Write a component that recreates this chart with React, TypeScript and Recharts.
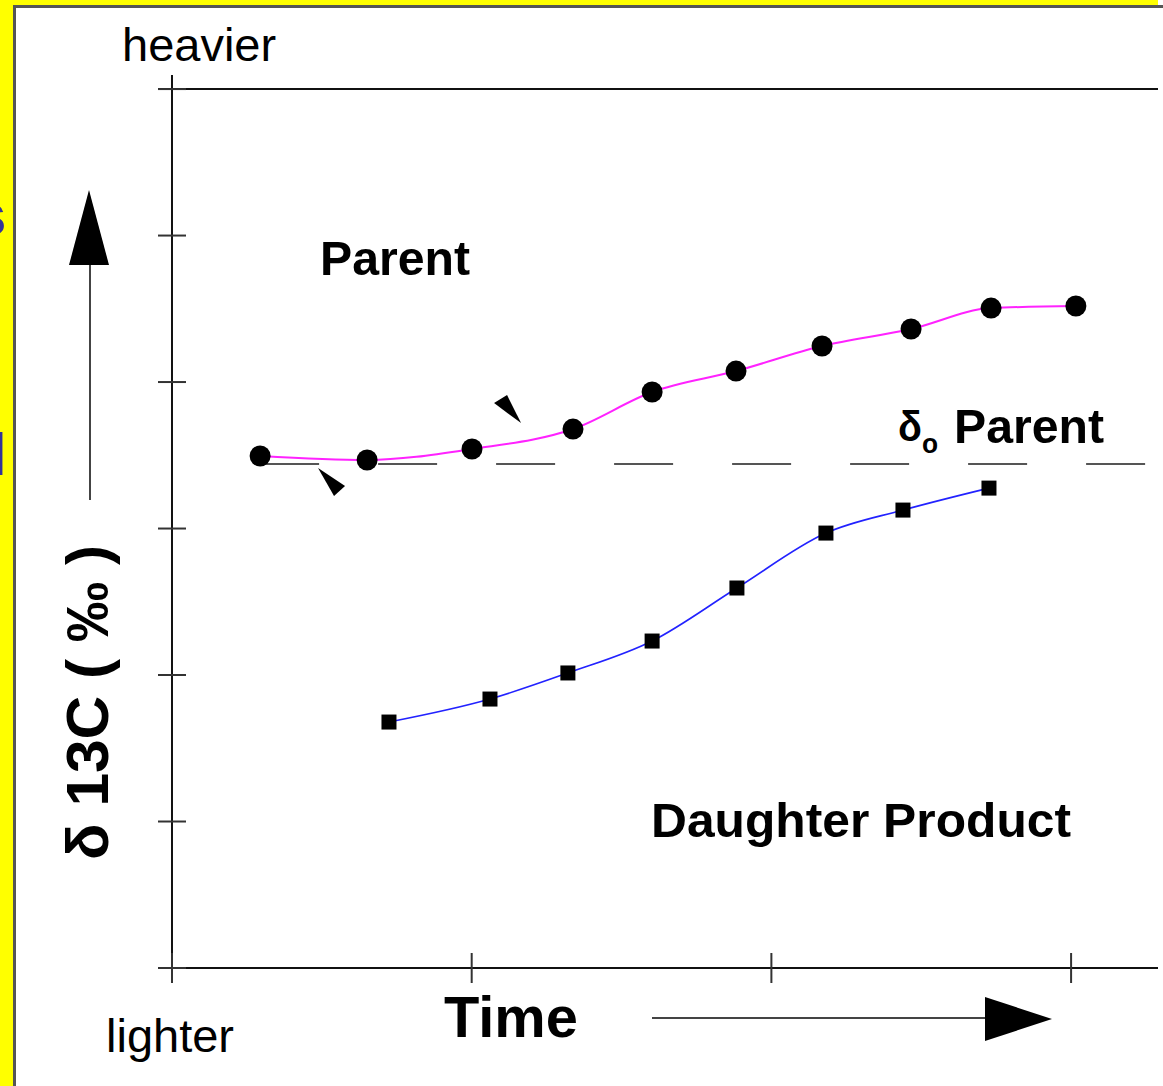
import { LineChart, Line, XAxis, YAxis, ReferenceLine, ReferenceDot } from "recharts";

// values (time units / per-mil units)
const parentX = [0.294, 0.651, 1.001, 1.338, 1.602, 1.882, 2.169, 2.466, 2.733, 3.016];
const parentY = [3.495, 3.468, 3.543, 3.679, 3.932, 4.075, 4.246, 4.362, 4.505, 4.519];
const daughterX = [0.724, 1.061, 1.321, 1.602, 1.885, 2.182, 2.439, 2.726];
const daughterY = [1.679, 1.836, 2.014, 2.232, 2.594, 2.969, 3.126, 3.276];
const startParent = 3.44;
const markX = [0.534, 1.118];
const markY = [3.31, 3.829];
const xTicks = [0, 1, 2, 3];
const yTicks = [0, 1, 2, 3, 4, 5, 6];

const parentData = parentX.map((x, i) => ({ x, y: parentY[i] }));
const daughterData = daughterX.map((x, i) => ({ x, y: daughterY[i] }));

const FONT = "'Liberation Sans', Arial, sans-serif";

const markShapes = [
  "-14,-15 13,3 2,13",
  "-13,-4 0,-12 14,16",
];

function CircleDot(props: any) {
  const { cx, cy, index } = props;
  return <circle key={`c${index}`} cx={cx} cy={cy} r={10.5} fill="#000" />;
}

function SquareDot(props: any) {
  const { cx, cy, index } = props;
  return <rect key={`s${index}`} x={cx - 7.5} y={cy - 7.5} width={15} height={15} fill="#000" />;
}

function XTick(props: any) {
  const { x, y } = props;
  return <line x1={x} x2={x} y1={y - 30} y2={y} stroke="#333" strokeWidth={2} />;
}

function YTick(props: any) {
  const { x, y } = props;
  return <line x1={x} x2={x + 28} y1={y} y2={y} stroke="#333" strokeWidth={2} />;
}

export default function App() {
  return (
    <div style={{ position: "absolute", left: 0, top: 0, width: 1163, height: 1086, background: "#fff", overflow: "hidden" }}>
      <div style={{ position: "absolute", left: 0, top: 0, width: 1158, height: 1086, background: "#ffff00" }} />
      <div
        style={{
          position: "absolute",
          left: 13,
          top: 5,
          width: 1150,
          height: 1081,
          background: "#fff",
          borderLeft: "3px solid #555",
          borderTop: "3px solid #555",
          boxSizing: "border-box",
        }}
      />
      <svg width={1163} height={1086} style={{ position: "absolute", left: 0, top: 0 }}>
        <text x={-27} y={235} fontFamily={FONT} fontWeight="bold" fontSize={60} fill="#333399">s</text>
        <text x={-10} y={475} fontFamily={FONT} fontWeight="bold" fontSize={60} fill="#333399">l</text>
      </svg>
      <div style={{ position: "absolute", left: 0, top: 0 }}>
        <LineChart width={1163} height={1086} margin={{ top: 75, right: 5, left: 108, bottom: 73 }}>
          <XAxis
            type="number"
            dataKey="x"
            domain={[-0.0467, 3.29]}
            allowDataOverflow
            ticks={xTicks}
            axisLine={false}
            tickLine={false}
            tickSize={0}
            tickMargin={0}
            height={30}
            tick={<XTick />}
          />
          <YAxis
            type="number"
            dataKey="y"
            domain={[-0.1024, 6.096]}
            allowDataOverflow
            ticks={yTicks}
            axisLine={false}
            tickLine={false}
            tickSize={0}
            tickMargin={0}
            width={50}
            tick={<YTick />}
          />
          <ReferenceLine x={0} stroke="#111" strokeWidth={2} />
          <ReferenceLine y={0} stroke="#111" strokeWidth={2} />
          <ReferenceLine y={6} stroke="#111" strokeWidth={2} />
          <ReferenceLine
            segment={[{ x: parentX[0], y: startParent }, { x: 3.29, y: startParent }]}
            stroke="#555"
            strokeWidth={2}
            strokeDasharray="59 59"
          />
          {markX.map((x, i) => (
            <ReferenceDot
              key={`m${i}`}
              x={x}
              y={markY[i]}
              r={1}
              shape={(p: any) => (
                <polygon
                  transform={`translate(${p.cx},${p.cy})`}
                  points={markShapes[i]}
                  fill="#000"
                />
              )}
            />
          ))}
          <Line
            data={parentData}
            dataKey="y"
            type="monotone"
            stroke="#ff22ff"
            strokeWidth={2}
            dot={<CircleDot />}
            isAnimationActive={false}
          />
          <Line
            data={daughterData}
            dataKey="y"
            type="monotone"
            stroke="#2222ff"
            strokeWidth={1.6}
            dot={<SquareDot />}
            isAnimationActive={false}
          />
        </LineChart>
      </div>
      <svg width={1163} height={1086} style={{ position: "absolute", left: 0, top: 0, pointerEvents: "none" }}>
        <g fontFamily={FONT} fill="#000">
          <text x={122} y={61} fontSize={47}>heavier</text>
          <text x={106} y={1052} fontSize={47}>lighter</text>
          <text x={320} y={275} fontSize={48} fontWeight="bold" textLength={150} lengthAdjust="spacingAndGlyphs">Parent</text>
          <text x={898} y={441} fontWeight="bold" textLength={40} lengthAdjust="spacingAndGlyphs">
            <tspan fontSize={42}>δ</tspan>
            <tspan fontSize={28} dy={12}>o</tspan>
          </text>
          <text x={954} y={443} fontSize={48} fontWeight="bold" textLength={150} lengthAdjust="spacingAndGlyphs">Parent</text>
          <text x={651} y={837} fontSize={49} fontWeight="bold" textLength={420} lengthAdjust="spacingAndGlyphs">Daughter Product</text>
          <text x={444} y={1037} fontSize={57} fontWeight="bold" textLength={134} lengthAdjust="spacingAndGlyphs">Time</text>
          <text
            transform="translate(108,860) rotate(-90)"
            fontSize={60}
            fontWeight="bold"
            textLength={315}
            lengthAdjust="spacingAndGlyphs"
          >
            δ 13C ( ‰ )
          </text>
        </g>
        <polygon points="89,190 69,265 109,265" fill="#000" />
        <line x1={90} y1={265} x2={90} y2={500} stroke="#444" strokeWidth={2} />
        <line x1={652} y1={1018} x2={990} y2={1018} stroke="#444" strokeWidth={2} />
        <polygon points="985,997 985,1041 1052,1019" fill="#000" />
      </svg>
    </div>
  );
}
